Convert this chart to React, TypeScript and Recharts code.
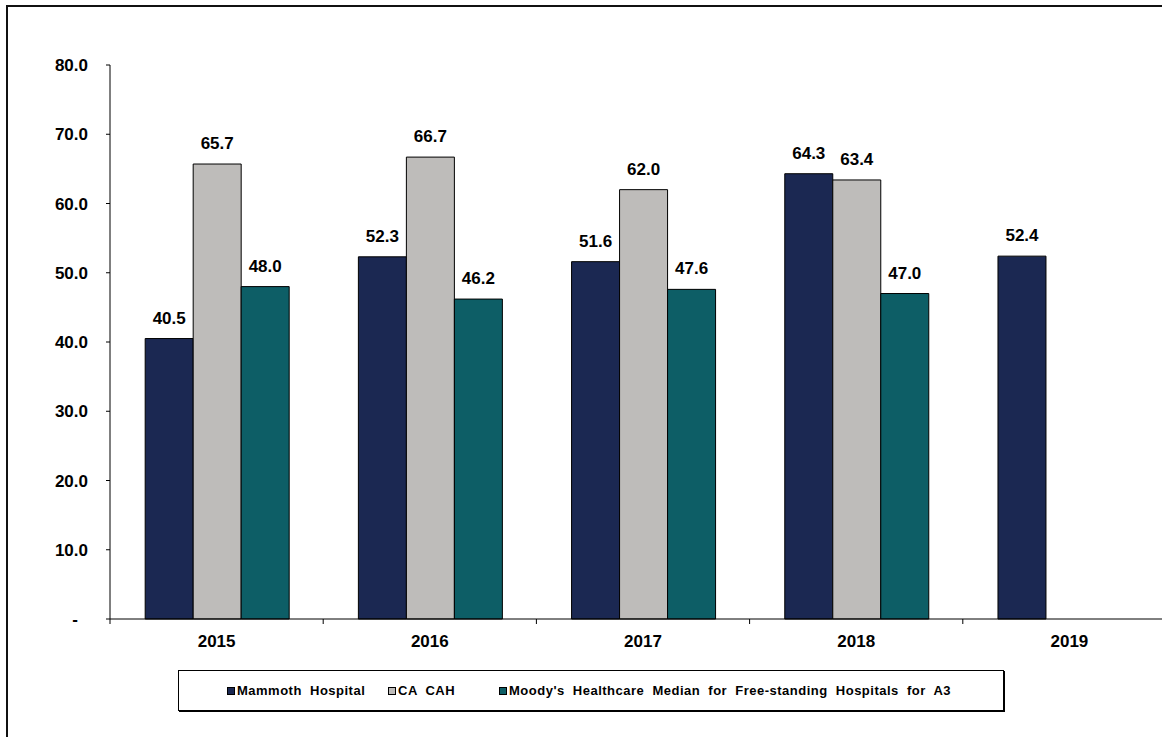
import React from 'react';
import { BarChart, Bar, XAxis, YAxis, LabelList } from 'recharts';

const years = ['2015', '2016', '2017', '2018', '2019'];
const mammoth = [40.5, 52.3, 51.6, 64.3, 52.4];
const caCah = [65.7, 66.7, 62.0, 63.4, null];
const moodys = [48.0, 46.2, 47.6, 47.0, null];
const yTicks = [0, 10, 20, 30, 40, 50, 60, 70, 80];

const seriesNames = [
  'Mammoth Hospital',
  'CA CAH',
  "Moody's Healthcare Median for Free-standing Hospitals for A3",
];
const colors = ['#1B2852', '#BEBCBA', '#0D5E66'];

const data = years.map((year, i) => ({
  year,
  mammoth: mammoth[i],
  caCah: caCah[i],
  moodys: moodys[i],
}));

const FONT = 'Arial, "Liberation Sans", sans-serif';
const CHART_W = 1180;
const CHART_H = 659;
const Y_AXIS_W = 110;
const MARGIN_R = 4;
const halfBand = (CHART_W - Y_AXIS_W - MARGIN_R) / years.length / 2;

// legend item starts, relative to the legend box
const legendLefts = [48, 209, 320];

function fmt(v: number): string {
  return v === 0 ? '-' : v.toFixed(1);
}

function YTick(props: any) {
  const { x, y, payload } = props;
  const shift = payload.value === 0 ? -10 : 0;
  return (
    <text
      x={x + shift}
      y={y}
      dy="0.355em"
      textAnchor="end"
      fontFamily={FONT}
      fontWeight="bold"
      fontSize={17}
      fill="#000"
    >
      {fmt(payload.value)}
    </text>
  );
}

function XTick(props: any) {
  const { x, y, payload } = props;
  return (
    <g>
      <line x1={x - halfBand} x2={x - halfBand} y1={y} y2={y + 5} stroke="#000" strokeWidth={1} />
      <text
        x={x}
        y={y + 28}
        textAnchor="middle"
        fontFamily={FONT}
        fontWeight="bold"
        fontSize={17}
        fill="#000"
      >
        {payload.value}
      </text>
    </g>
  );
}

function LegendBox() {
  return (
    <div
      style={{
        position: 'absolute',
        left: 178,
        top: 670,
        width: 826,
        height: 41,
        border: '1px solid #000',
        boxShadow: '1px 1px 0 #000',
        background: '#fff',
        fontFamily: FONT,
        fontWeight: 'bold',
        fontSize: 13,
        letterSpacing: 0.5,
        wordSpacing: 4,
        color: '#000',
        boxSizing: 'border-box',
      }}
    >
      {seriesNames.map((name, i) => (
        <span
          key={name}
          style={{
            position: 'absolute',
            left: legendLefts[i],
            top: 0,
            height: 39,
            display: 'flex',
            alignItems: 'center',
            whiteSpace: 'nowrap',
          }}
        >
          <span
            style={{
              display: 'inline-block',
              width: 6,
              height: 6,
              background: colors[i],
              border: '1px solid #000',
              marginRight: 2,
            }}
          />
          {name}
        </span>
      ))}
    </div>
  );
}

export default function App() {
  return (
    <div
      style={{
        position: 'fixed',
        left: 0,
        top: 0,
        width: 1162,
        height: 737,
        overflow: 'hidden',
        background: '#fff',
      }}
    >
      <div
        style={{
          position: 'absolute',
          left: 6,
          top: 5,
          width: 1200,
          height: 800,
          border: '2px solid #111',
        }}
      />
      <div style={{ position: 'absolute', left: 0, top: 0 }}>
        <BarChart
          width={CHART_W}
          height={CHART_H}
          data={data}
          margin={{ top: 65, right: MARGIN_R, left: 0, bottom: 0 }}
          barCategoryGap="16.5%"
          barGap={0}
        >
          <XAxis
            dataKey="year"
            height={40}
            axisLine={{ stroke: '#000', strokeWidth: 1 }}
            tickLine={false}
            tickSize={0}
            tickMargin={0}
            tick={<XTick />}
            interval={0}
          />
          <YAxis
            width={Y_AXIS_W}
            domain={[0, 80]}
            ticks={yTicks}
            interval={0}
            axisLine={{ stroke: '#000', strokeWidth: 1 }}
            tickLine={{ stroke: '#000', strokeWidth: 1 }}
            tickSize={4}
            tickMargin={18}
            tick={<YTick />}
          />
          {(['mammoth', 'caCah', 'moodys'] as const).map((key, i) => (
            <Bar
              key={key}
              dataKey={key}
              name={seriesNames[i]}
              fill={colors[i]}
              stroke="#000"
              strokeWidth={1}
              isAnimationActive={false}
            >
              <LabelList
                dataKey={key}
                position="top"
                offset={15}
                formatter={(v: any) => (v == null ? '' : Number(v).toFixed(1))}
                style={{ fontFamily: FONT, fontWeight: 'bold', fontSize: 17, fill: '#000' }}
              />
            </Bar>
          ))}
        </BarChart>
      </div>
      <LegendBox />
    </div>
  );
}
